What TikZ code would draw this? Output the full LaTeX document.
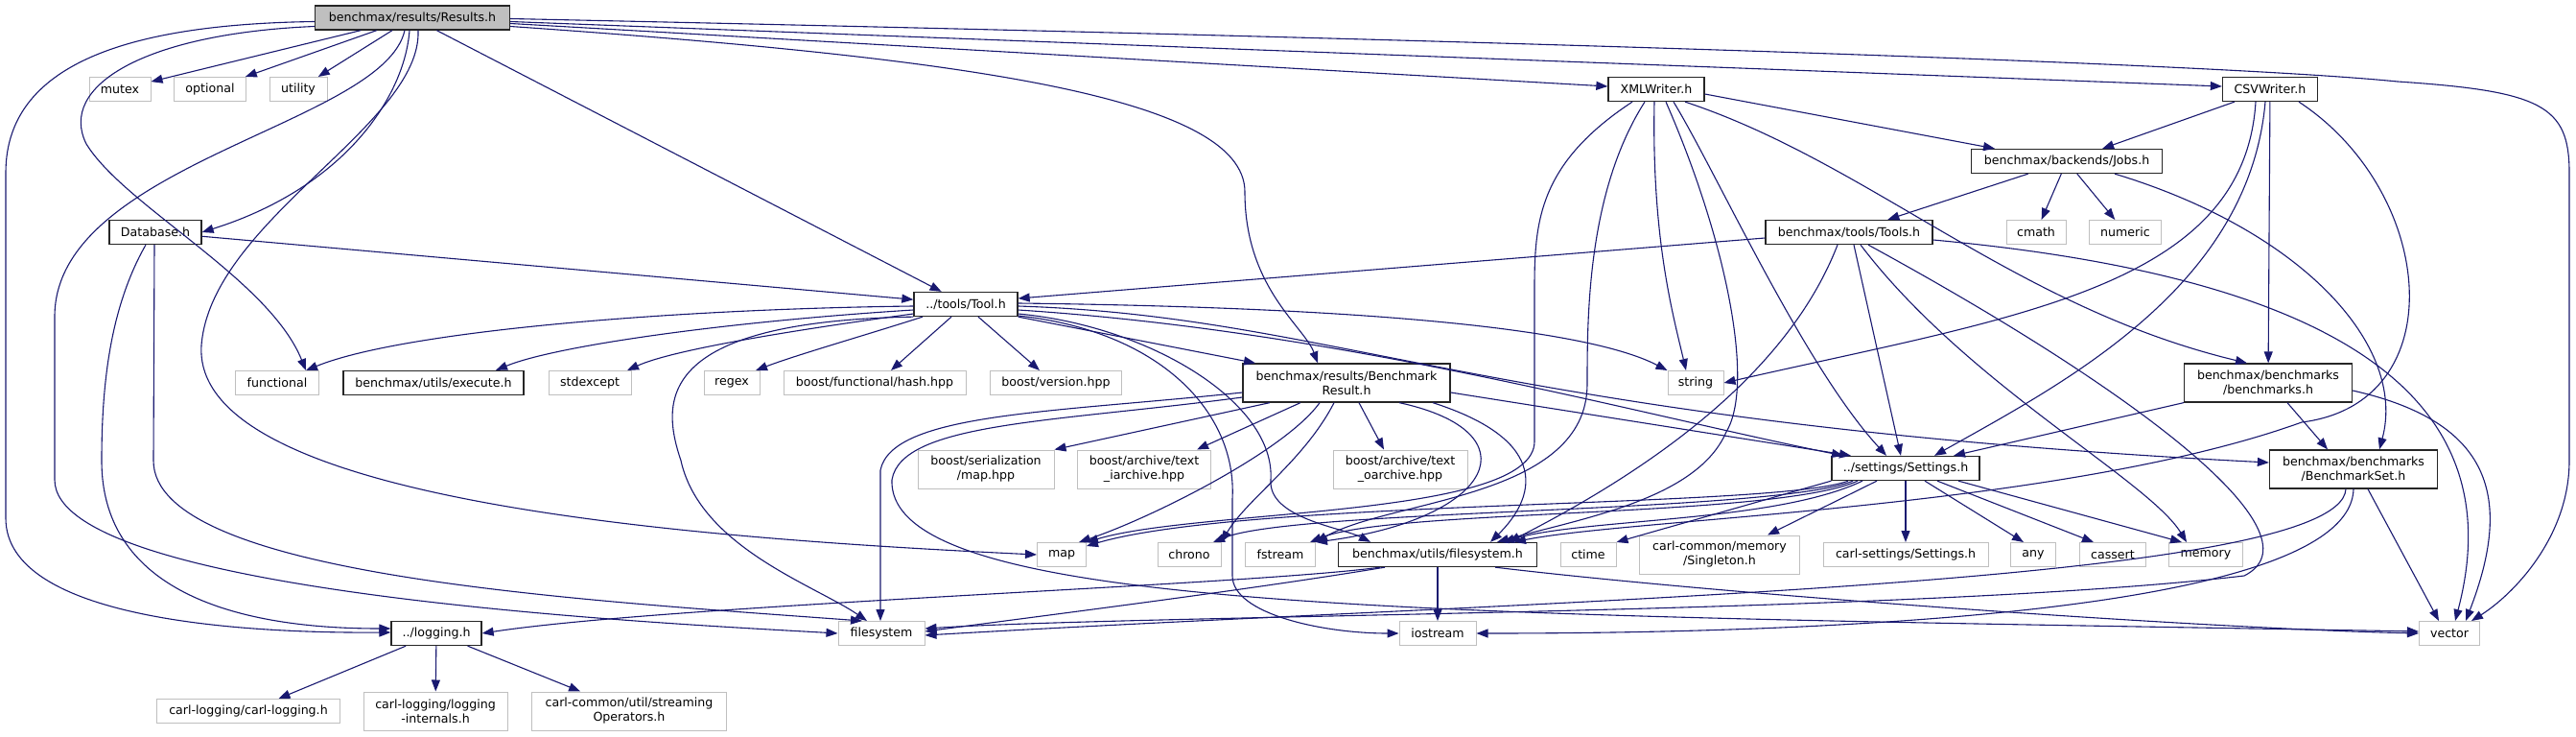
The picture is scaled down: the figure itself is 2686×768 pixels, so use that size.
\documentclass[tikz,border=0pt]{standalone}
\usepackage{fontspec}
\setmainfont{DejaVu Sans}
\usepackage{xcolor}
\usepackage{tikz}
\usetikzlibrary{arrows.meta}
\definecolor{navyline}{HTML}{191970}
\definecolor{boxgray}{HTML}{BFBFBF}
\newcommand{\depfont}{\fontsize{12.6}{15}\selectfont}

\begin{document}
\begin{tikzpicture}[x=1pt,y=-1pt,
  sys/.style={draw=boxgray,line width=1pt,inner sep=0pt,minimum height=25pt,align=center,font=\depfont},
  box/.style={sys,draw=black!85,line width=1.3pt},
  cur/.style={box,fill=boxgray},
  tall/.style={minimum height=40pt},
  arr/.style={-{Triangle[length=12pt,width=9pt]},line width=1.1pt,draw=navyline}
]
\fill[white] (0,0) rectangle (2686,768);
\useasboundingbox (0,0) rectangle (2686,768);

\node[cur,minimum width=203pt] (results) at (430,18.5) {benchmax/results/Results.h};
\node[sys,minimum width=64pt] (mutex) at (125,93) {mutex};
\node[sys,minimum width=75pt] (optional) at (219,93) {optional};
\node[sys,minimum width=60pt] (utility) at (311,93) {utility};
\node[box,minimum width=100pt] (xml) at (1727,93) {XMLWriter.h};
\node[box,minimum width=99pt] (csv) at (2367,93) {CSVWriter.h};
\node[box,minimum width=199pt] (jobs) at (2155,168) {benchmax/backends/Jobs.h};
\node[box,minimum width=96pt] (database) at (162,242) {Database.h};
\node[box,minimum width=174pt] (toolsh) at (1928,242) {benchmax/tools/Tools.h};
\node[sys,minimum width=62pt] (cmath) at (2123,242) {cmath};
\node[sys,minimum width=75pt] (numeric) at (2216,242) {numeric};
\node[box,minimum width=108pt] (tool) at (1007,317) {../tools/Tool.h};
\node[sys,minimum width=87pt] (functional) at (289,399) {functional};
\node[box,minimum width=188pt] (execute) at (452,399) {benchmax/utils/execute.h};
\node[sys,minimum width=86pt] (stdexcept) at (615,399) {stdexcept};
\node[sys,minimum width=58pt] (regex) at (763,399) {regex};
\node[sys,minimum width=190pt] (hash) at (912,399) {boost/functional/hash.hpp};
\node[sys,minimum width=137pt] (version) at (1101,399) {boost/version.hpp};
\node[box,tall,minimum width=216pt] (bres) at (1404,399) {benchmax/results/Benchmark\\Result.h};
\node[sys,minimum width=58pt] (string) at (1768,399) {string};
\node[box,tall,minimum width=175pt] (bms) at (2365,399) {benchmax/benchmarks\\/benchmarks.h};
\node[sys,tall,minimum width=142pt] (sermap) at (1028,489) {boost/serialization\\/map.hpp};
\node[sys,tall,minimum width=139pt] (iarch) at (1193,489) {boost/archive/text\\\_iarchive.hpp};
\node[sys,tall,minimum width=140pt] (oarch) at (1460,489) {boost/archive/text\\\_oarchive.hpp};
\node[box,minimum width=154pt] (settings) at (1987,488) {../settings/Settings.h};
\node[box,tall,minimum width=175pt] (bset) at (2454,489) {benchmax/benchmarks\\/BenchmarkSet.h};
\node[sys,minimum width=51pt] (map) at (1107,578) {map};
\node[sys,minimum width=66pt] (chrono) at (1240,578) {chrono};
\node[sys,minimum width=73pt] (fstream) at (1335,578) {fstream};
\node[box,minimum width=207pt] (fsh) at (1499,578) {benchmax/utils/filesystem.h};
\node[sys,minimum width=58pt] (ctime) at (1656,578) {ctime};
\node[sys,tall,minimum width=167pt] (singleton) at (1793,578) {carl-common/memory\\/Singleton.h};
\node[sys,minimum width=172pt] (carlset) at (1987,578) {carl-settings/Settings.h};
\node[sys,minimum width=47pt] (any) at (2120,578) {any};
\node[sys,minimum width=69pt] (cassert) at (2203,578) {cassert};
\node[sys,minimum width=77pt] (memory) at (2300,578) {memory};
\node[box,minimum width=94pt] (logging) at (455,660) {../logging.h};
\node[sys,minimum width=90pt] (fs) at (919,660) {filesystem};
\node[sys,minimum width=80pt] (iostream) at (1499,660) {iostream};
\node[sys,minimum width=63pt] (vector) at (2554,660) {vector};
\node[sys,minimum width=191pt] (carllog) at (259,741) {carl-logging/carl-logging.h};
\node[sys,tall,minimum width=150pt] (internals) at (454,741) {carl-logging/logging\\-internals.h};
\node[sys,tall,minimum width=203pt] (streaming) at (656,741) {carl-common/util/streaming\\Operators.h};

\draw[arr] (results) -- (mutex);
\draw[arr] (results) -- (optional);
\draw[arr] (results) -- (utility);
\draw[arr] ([xshift=-3pt]results.south) .. controls (422,100) and (360,195) .. (database.east);
\draw[arr] ([yshift=-9pt]results.west) .. controls (150,35) and (60,90) .. (90,150) .. controls (130,215) and (280,290) .. ([xshift=30pt]functional.north);
\draw[arr] ([yshift=-4pt]results.west) .. controls (150,25) and (6,60) .. (6,180) -- (6,540) .. controls (6,645) and (250,660) .. ([yshift=1pt]logging.west);
\draw[arr] ([xshift=-8pt]results.south) .. controls (400,130) and (57,170) .. (57,330) -- (57,500) .. controls (57,620) and (700,650) .. (fs.west);
\draw[arr] ([xshift=6pt]results.south) .. controls (440,130) and (220,230) .. (210,360) .. controls (200,520) and (700,560) .. (map.west);
\draw[arr] (results) -- (tool);
\draw[arr] ([yshift=-9pt]results.east) .. controls (1000,60) and (1298,100) .. (1298,200) .. controls (1298,300) and (1360,340) .. ([xshift=-30pt]bres.north);
\draw[arr] ([yshift=-6pt]results.east) -- ([yshift=3pt]xml.west);
\draw[arr] ([yshift=-4pt]results.east) -- ([yshift=3pt]csv.west);
\draw[arr] ([yshift=-1pt]results.east) .. controls (1500,40) and (2300,65) .. (2500,85) .. controls (2650,95) and (2679,110) .. (2679,180) -- (2679,480) .. controls (2679,560) and (2620,620) .. ([xshift=23pt]vector.north);

\draw[arr] (database) -- (tool);
\draw[arr] ([xshift=-10pt]database.south) .. controls (115,320) and (106,400) .. (106,480) .. controls (106,640) and (300,655) .. ([yshift=5pt]logging.west);
\draw[arr] ([xshift=-1pt]database.south) -- (160,480) .. controls (160,600) and (600,625) .. ([xshift=-20pt]fs.north);

\draw[arr] ([yshift=-2pt]tool.west) .. controls (700,322) and (420,345) .. ([xshift=30pt]functional.north);
\draw[arr] ([yshift=-6pt]tool.west) .. controls (760,335) and (580,360) .. ([xshift=65pt]execute.north);
\draw[arr] ([yshift=-10pt]tool.west) .. controls (820,345) and (700,365) .. ([xshift=39pt]stdexcept.north);
\draw[arr] ([xshift=-45pt]tool.south) .. controls (900,350) and (830,370) .. ([xshift=25pt]regex.north);
\draw[arr] ([xshift=-15pt]tool.south) -- ([xshift=17pt]hash.north);
\draw[arr] ([xshift=13pt]tool.south) -- ([xshift=-17pt]version.north);
\draw[arr] (tool.south east) -- ([xshift=-95pt]bres.north);
\draw[arr] ([yshift=1pt]tool.east) .. controls (1400,320) and (1650,340) .. (string.north west);
\draw[arr] ([yshift=-2pt]tool.east) .. controls (1400,330) and (1550,440) .. ([yshift=7pt]bset.west);
\draw[arr] ([yshift=-6pt]tool.east) .. controls (1400,345) and (1700,430) .. ([xshift=-65pt]settings.north);
\draw[arr] ([yshift=-10pt]tool.east) .. controls (1200,340) and (1330,420) .. (1325,500) .. controls (1322,540) and (1400,550) .. ([xshift=-70pt]fsh.north);
\draw[arr] ([yshift=-12pt]tool.east) .. controls (1210,345) and (1290,430) .. (1285,520) -- (1285,600) .. controls (1285,640) and (1380,660) .. (iostream.west);
\draw[arr] (tool.south west) .. controls (680,335) and (690,420) .. (710,480) .. controls (730,570) and (850,610) .. ([xshift=-15pt]fs.north);

\draw[arr] ([xshift=-80pt]bres.south) -- (sermap.north east);
\draw[arr] ([xshift=-48pt]bres.south) -- ([xshift=55pt]iarch.north);
\draw[arr] ([xshift=13pt]bres.south) -- ([xshift=-17pt]oarch.north);
\draw[arr] ([xshift=-28pt]bres.south) .. controls (1340,470) and (1200,540) .. ([xshift=-8pt]map.north east);
\draw[arr] ([xshift=-13pt]bres.south) .. controls (1360,480) and (1300,520) .. (chrono.north east);
\draw[arr] ([xshift=55pt]bres.south) .. controls (1600,450) and (1560,540) .. (fstream.north east);
\draw[arr] ([xshift=90pt]bres.south) .. controls (1620,460) and (1600,520) .. ([xshift=55pt]fsh.north);
\draw[arr] ([yshift=-10pt]bres.east) -- ([xshift=-57pt]settings.north);
\draw[arr] ([yshift=-10pt]bres.west) .. controls (1100,430) and (930,430) .. (918,490) -- ([xshift=-1pt]fs.north);
\draw[arr] ([yshift=-15pt]bres.west) .. controls (1100,440) and (940,440) .. (930,500) .. controls (925,640) and (1500,640) .. ([yshift=2pt]vector.west);

\draw[arr] ([xshift=-60pt]settings.south) .. controls (1850,530) and (1300,520) .. ([yshift=-4pt]map.north east);
\draw[arr] ([xshift=-55pt]settings.south) .. controls (1850,535) and (1350,530) .. ([xshift=25pt]chrono.north);
\draw[arr] ([xshift=-50pt]settings.south) .. controls (1850,540) and (1450,530) .. ([xshift=-6pt]fstream.north east);
\draw[arr] ([xshift=-45pt]settings.south) .. controls (1850,545) and (1650,540) .. ([xshift=68pt]fsh.north);
\draw[arr] (settings.south west) -- (ctime.north east);
\draw[arr] ([xshift=-30pt]settings.south) -- ([xshift=50pt]singleton.north);
\draw[arr] (settings) -- (carlset);
\draw[arr] ([xshift=20pt]settings.south) -- ([xshift=-10pt]any.north);
\draw[arr] ([xshift=33pt]settings.south) -- ([xshift=-20pt]cassert.north);
\draw[arr] ([xshift=55pt]settings.south) -- ([xshift=-25pt]memory.north);

\draw[arr] ([xshift=-60pt]fsh.south) .. controls (1300,610) and (700,630) .. (logging.east);
\draw[arr] ([xshift=-55pt]fsh.south) .. controls (1300,615) and (1100,640) .. ([yshift=2pt]fs.east);
\draw[arr] (fsh) -- (iostream);
\draw[arr] ([xshift=60pt]fsh.south) .. controls (1800,620) and (2300,655) .. (vector.west);

\draw[arr] ([xshift=-8pt]bset.south) .. controls (2440,610) and (1600,625) .. ([yshift=-2pt]fs.east);
\draw[arr] (bset.south) .. controls (2450,650) and (1800,660) .. (iostream.east);
\draw[arr] ([xshift=15pt]bset.south) -- ([xshift=-11pt]vector.north);

\draw[arr] (bms.south west) -- ([xshift=50pt]settings.north);
\draw[arr] ([xshift=20pt]bms.south) -- ([xshift=-27pt]bset.north);
\draw[arr] ([yshift=-8pt]bms.east) .. controls (2600,440) and (2620,520) .. ([xshift=17pt]vector.north);

\draw[arr] ([yshift=-6pt]toolsh.west) -- ([yshift=6pt]tool.east);
\draw[arr] ([xshift=5pt]toolsh.south) -- ([xshift=-5pt]settings.north);
\draw[arr] ([xshift=12pt]toolsh.south) .. controls (2050,400) and (2240,500) .. ([xshift=-20pt]memory.north);
\draw[arr] ([xshift=-12pt]toolsh.south) .. controls (1860,400) and (1700,500) .. ([xshift=74pt]fsh.north);
\draw[arr] ([xshift=20pt]toolsh.south) .. controls (2250,420) and (2420,560) .. (2340,600) .. controls (2000,640) and (1200,640) .. ([yshift=5pt]fs.east);
\draw[arr] ([yshift=-8pt]toolsh.east) .. controls (2450,290) and (2620,420) .. ([xshift=6pt]vector.north);

\draw[arr] (jobs) -- (toolsh);
\draw[arr] (jobs) -- (cmath);
\draw[arr] (jobs) -- (numeric);
\draw[arr] ([xshift=50pt]jobs.south) .. controls (2400,240) and (2510,360) .. ([xshift=27pt]bset.north);

\draw[arr] (csv) -- (jobs);
\draw[arr] (csv) -- (bms);
\draw[arr] ([xshift=-15pt]csv.south) .. controls (2340,300) and (2100,330) .. (string.east);
\draw[arr] ([xshift=-5pt]csv.south) .. controls (2345,300) and (2150,400) .. ([xshift=30pt]settings.north);
\draw[arr] ([xshift=30pt]csv.south) .. controls (2540,200) and (2560,420) .. (2400,440) .. controls (2150,530) and (1700,540) .. ([xshift=80pt]fsh.north);

\draw[arr] ([yshift=-5pt]xml.east) -- ([xshift=-75pt]jobs.north);
\draw[arr] ([xshift=30pt]xml.south) .. controls (1950,170) and (2100,320) .. ([xshift=-22pt]bms.north);
\draw[arr] ([xshift=-25pt]xml.south) .. controls (1605,170) and (1600,230) .. (1600,300) -- (1600,460) .. controls (1600,540) and (1250,530) .. (map.north east);
\draw[arr] ([xshift=-12pt]xml.south) .. controls (1655,200) and (1655,330) .. (1655,400) .. controls (1655,520) and (1450,520) .. (fstream.north east);
\draw[arr] ([xshift=-2pt]xml.south) .. controls (1722,250) and (1745,330) .. ([xshift=-10pt]string.north);
\draw[arr] ([xshift=10pt]xml.south) .. controls (1800,250) and (1830,400) .. (1800,450) .. controls (1770,520) and (1650,540) .. ([xshift=62pt]fsh.north);
\draw[arr] ([xshift=18pt]xml.south) .. controls (1790,180) and (1880,380) .. ([xshift=-20pt]settings.north);

\draw[arr] (logging) -- (carllog);
\draw[arr] (logging) -- (internals);
\draw[arr] (logging) -- (streaming);
\end{tikzpicture}
\end{document}
